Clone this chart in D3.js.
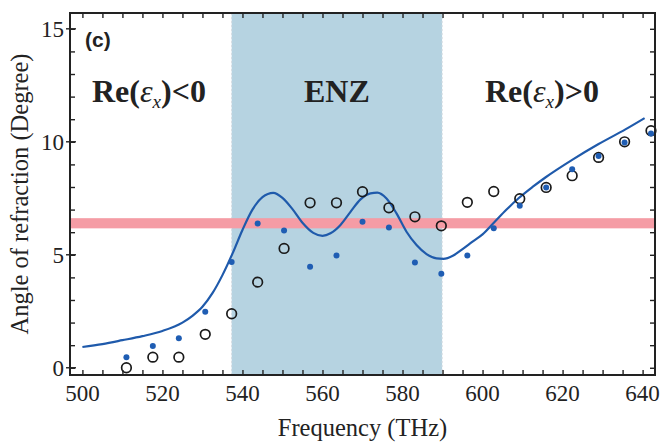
<!DOCTYPE html>
<html>
<head>
<meta charset="utf-8">
<script src="https://cdn.jsdelivr.net/npm/d3@7"></script>
<style>
html,body{margin:0;padding:0;background:#fff;}
svg{display:block;}
</style>
</head>
<body>
<svg id="chart" width="664" height="442"></svg>
<script>
// ---- data ----
const xTickValues = [500, 520, 540, 560, 580, 600, 620, 640];
const yTickValues = [0, 5, 10, 15];
const enzRange = [537.3, 589.9];
const bandRange = [6.17, 6.62];

const curveFreq = [500, 505, 510, 515, 520, 525, 527.5, 530, 532.5, 535, 537.5, 540, 542.5, 545, 547.7, 550, 552.5, 555, 557.7, 560, 562, 564.5, 567, 569.5, 572, 573.7, 576, 578.5, 581, 583.5, 586, 588.5, 590.2, 592.7, 595, 597.5, 600, 603, 606, 609, 612.5, 615.7, 622.4, 629, 635.7, 640.5];
const curveVal  = [0.92, 1.05, 1.22, 1.40, 1.63, 2.0, 2.3, 2.7, 3.3, 4.1, 5.05, 6.1, 7.0, 7.55, 7.74, 7.52, 7.02, 6.42, 5.97, 5.84, 5.95, 6.32, 6.90, 7.45, 7.72, 7.75, 7.49, 6.83, 6.02, 5.43, 5.03, 4.84, 4.82, 4.97, 5.25, 5.58, 5.9, 6.45, 7.0, 7.5, 8.0, 8.42, 9.2, 9.9, 10.55, 11.05];

const pointFreq = [511.0, 517.6, 524.1, 530.7, 537.3, 543.8, 550.4, 556.9, 563.5, 570.0, 576.6, 583.1, 589.7, 596.2, 602.8, 609.3, 615.9, 622.4, 629.0, 635.5, 642.1];
const circleVal = [0.0, 0.47, 0.47, 1.48, 2.39, 3.79, 5.28, 7.30, 7.30, 7.79, 7.08, 6.68, 6.28, 7.32, 7.80, 7.48, 7.98, 8.50, 9.31, 10.0, 10.49];
const dotVal    = [0.47, 0.96, 1.31, 2.48, 4.68, 6.38, 6.07, 4.47, 4.97, 6.46, 6.21, 4.66, 4.16, 4.97, 6.17, 7.17, 7.98, 8.78, 9.37, 9.97, 10.37];

// ---- layout ----
const L = 70, R = 655, T = 13, B = 375;
const svg = d3.select("#chart");
const x = d3.scaleLinear().domain([496.9, 643.1]).range([L, R]);
const y = d3.scaleLinear().domain([-0.32, 15.7]).range([B, T]);
const serif = "'Liberation Serif','Times New Roman',serif";
const ink = "#222";

// ENZ shading
svg.append("rect")
  .attr("x", x(enzRange[0])).attr("y", T)
  .attr("width", x(enzRange[1]) - x(enzRange[0])).attr("height", B - T)
  .attr("fill", "#b6d3e1");
enzRange.forEach(f => {
  svg.append("line").attr("x1", x(f)).attr("x2", x(f)).attr("y1", T).attr("y2", B)
    .attr("stroke", "#d5dde2").attr("stroke-width", 1).attr("stroke-dasharray", "2,2");
});

// pink band
svg.append("rect")
  .attr("x", L).attr("y", y(bandRange[1]))
  .attr("width", R - L).attr("height", y(bandRange[0]) - y(bandRange[1]))
  .attr("fill", "#f59ca5");

// curve
const line = d3.line().x(d => x(d[0])).y(d => y(d[1])).curve(d3.curveMonotoneX);
svg.append("path")
  .datum(curveFreq.map((f, i) => [f, curveVal[i]]))
  .attr("d", line).attr("fill", "none").attr("stroke", "#1f5aab").attr("stroke-width", 2.2);

// open circles
svg.append("g").selectAll("circle").data(pointFreq.map((f, i) => [f, circleVal[i]]))
  .join("circle").attr("cx", d => x(d[0])).attr("cy", d => y(d[1])).attr("r", 4.8)
  .attr("fill", "none").attr("stroke", "#1a1a1a").attr("stroke-width", 1.7);

// blue dots
svg.append("g").selectAll("circle").data(pointFreq.map((f, i) => [f, dotVal[i]]))
  .join("circle").attr("cx", d => x(d[0])).attr("cy", d => y(d[1])).attr("r", 3)
  .attr("fill", "#1f5db3");

// ---- axes ----
const xMinor = d3.range(500, 641, 5);
const yMinor = d3.range(0, 16, 1);
const xAxisB = d3.axisBottom(x).tickValues(xMinor).tickSize(-5).tickFormat("");
const xAxisT = d3.axisTop(x).tickValues(xMinor).tickSize(-5).tickFormat("");
const yAxisL = d3.axisLeft(y).tickValues(yMinor).tickSize(-5).tickFormat("");
const yAxisR = d3.axisRight(y).tickValues(yMinor).tickSize(-5).tickFormat("");
[[xAxisB, `translate(0,${B})`], [xAxisT, `translate(0,${T})`], [yAxisL, `translate(${L},0)`], [yAxisR, `translate(${R},0)`]]
  .forEach(([ax, tr]) => {
    const g = svg.append("g").attr("transform", tr).call(ax);
    g.select(".domain").remove();
    g.selectAll(".tick line").attr("stroke", ink).attr("stroke-width", 1.4);
  });
// major y ticks crossing outward
svg.append("g").selectAll("line").data(yTickValues).join("line")
  .attr("x1", L - 4).attr("x2", L + 6).attr("y1", d => y(d)).attr("y2", d => y(d))
  .attr("stroke", ink).attr("stroke-width", 1.4);

// frame
svg.append("rect").attr("x", L).attr("y", T).attr("width", R - L).attr("height", B - T)
  .attr("fill", "none").attr("stroke", ink).attr("stroke-width", 2);

// tick labels
svg.append("g").selectAll("text").data(xTickValues).join("text")
  .attr("x", d => x(d)).attr("y", 401).attr("text-anchor", "middle")
  .attr("font-family", serif).attr("font-size", 23).attr("fill", ink).text(d => d);
svg.append("g").selectAll("text").data(yTickValues).join("text")
  .attr("x", 64).attr("y", d => y(d) + 8).attr("text-anchor", "end")
  .attr("font-family", serif).attr("font-size", 23).attr("fill", ink).text(d => d);

// axis titles
svg.append("text").attr("x", (L + R) / 2).attr("y", 436).attr("text-anchor", "middle")
  .attr("font-family", serif).attr("font-size", 24.5).attr("fill", ink).text("Frequency (THz)");
svg.append("text").attr("transform", `translate(28,${(T + B) / 2}) rotate(-90)`)
  .attr("text-anchor", "middle").attr("font-family", serif).attr("font-size", 24.5).attr("fill", ink)
  .text("Angle of refraction (Degree)");

// panel label
svg.append("text").attr("x", 85).attr("y", 47)
  .attr("font-family", "'Liberation Sans',Arial,sans-serif").attr("font-weight", "bold")
  .attr("font-size", 21).attr("fill", ink).text("(c)");

// region labels
function regionLabel(xPos, sign) {
  const t = svg.append("text").attr("x", xPos).attr("y", 102)
    .attr("font-family", serif).attr("font-size", 32).attr("font-weight", "bold").attr("fill", ink);
  t.append("tspan").text("Re(");
  t.append("tspan").attr("font-style", "italic").attr("font-weight", "normal").text("ε");
  t.append("tspan").attr("font-style", "italic").attr("font-weight", "normal").attr("font-size", 19).attr("dy", 6).text("x");
  t.append("tspan").attr("dy", -6).text(")" + sign + "0");
}
regionLabel(92, "<");
regionLabel(485, ">");
svg.append("text").attr("x", x((enzRange[0] + enzRange[1]) / 2)).attr("y", 102).attr("text-anchor", "middle")
  .attr("font-family", serif).attr("font-size", 32).attr("font-weight", "bold").attr("fill", ink).text("ENZ");
</script>
</body>
</html>
